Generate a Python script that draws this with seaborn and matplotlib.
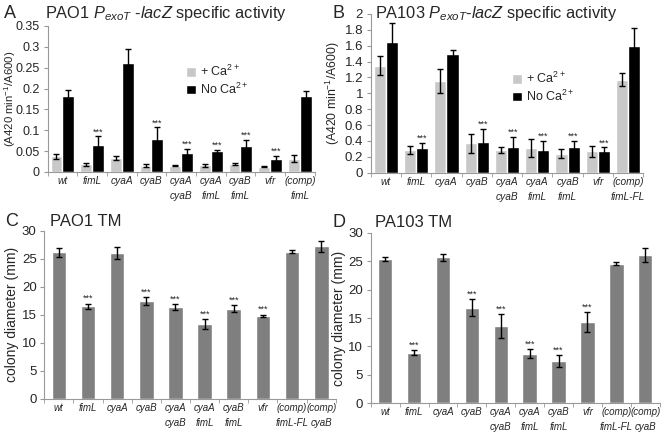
import numpy as np
import pandas as pd
import matplotlib
matplotlib.use("Agg")
import matplotlib.pyplot as plt
import seaborn as sns
from matplotlib.ticker import FuncFormatter, FixedLocator

sns.set_style("white")
plt.rcParams['font.family'] = ['Liberation Sans', 'DejaVu Sans']
plt.rcParams['mathtext.fontset'] = 'custom'
plt.rcParams['mathtext.rm'] = 'Liberation Sans'
plt.rcParams['mathtext.it'] = 'Liberation Sans:italic'
plt.rcParams['mathtext.bf'] = 'Liberation Sans:bold'

# ---------------- data ----------------
strains_ab = ["wt", "fimL", "cyaA", "cyaB", "cyaA\ncyaB", "cyaA\nfimL", "cyaB\nfimL", "vfr", "(comp)\nfimL"]
strains_b = ["wt", "fimL", "cyaA", "cyaB", "cyaA\ncyaB", "cyaA\nfimL", "cyaB\nfimL", "vfr", "(comp)\nfimL-FL"]
strains_cd = ["wt", "fimL", "cyaA", "cyaB", "cyaA\ncyaB", "cyaA\nfimL", "cyaB\nfimL", "vfr", "(comp)\nfimL-FL", "(comp)\ncyaB"]
conditions = ["+ Ca$^{2+}$", "No Ca$^{2+}$"]

a_ca = [0.037, 0.018, 0.033, 0.015, 0.015, 0.016, 0.019, 0.012, 0.032]
a_ca_err = [0.005, 0.003, 0.005, 0.003, 0.002, 0.004, 0.002, 0.001, 0.009]
a_noca = [0.181, 0.064, 0.262, 0.079, 0.046, 0.049, 0.063, 0.031, 0.181]
a_noca_err = [0.015, 0.021, 0.032, 0.028, 0.009, 0.003, 0.014, 0.008, 0.014]
a_sig = [False, True, False, True, True, True, True, True, False]

b_ca = [1.35, 0.29, 1.15, 0.37, 0.29, 0.31, 0.24, 0.27, 1.17]
b_ca_err = [0.125, 0.05, 0.15, 0.12, 0.04, 0.11, 0.06, 0.07, 0.08]
b_noca = [1.65, 0.31, 1.49, 0.39, 0.33, 0.29, 0.32, 0.28, 1.60]
b_noca_err = [0.24, 0.07, 0.06, 0.16, 0.12, 0.11, 0.08, 0.04, 0.22]
b_sig = [False, True, False, True, True, True, True, True, False]

c_diam = [26.2, 16.5, 26.0, 17.5, 16.4, 13.3, 16.1, 14.8, 26.3, 27.2]
c_err = [0.8, 0.5, 1.1, 0.7, 0.5, 0.9, 0.6, 0.2, 0.3, 1.0]
c_sig = [False, True, False, True, True, True, True, True, False, False]

d_diam = [25.4, 8.9, 25.7, 16.8, 13.6, 8.7, 7.4, 14.3, 24.6, 26.1]
d_err = [0.4, 0.5, 0.6, 1.5, 2.1, 0.8, 1.0, 1.7, 0.3, 1.3]
d_sig = [False, True, False, True, True, True, True, True, False, False]

LIGHT = "#c8c8c8"
DARK = "#000000"
MID = "#7f7f7f"
SPINE = "#999999"

fig = plt.figure(figsize=(6.61, 4.33), dpi=100)


def style_axes(ax, n, ymax, step, fmt, xsize, ysize=9.5):
    for s in ["top", "right"]:
        ax.spines[s].set_visible(False)
    for s in ["left", "bottom"]:
        ax.spines[s].set_color(SPINE)
        ax.spines[s].set_linewidth(0.8)
    ax.set_xlim(-0.5, n - 0.5)
    ax.set_ylim(0, ymax)
    ax.set_yticks(np.arange(0, ymax + step / 2, step))
    ax.yaxis.set_major_formatter(FuncFormatter(fmt))
    ax.tick_params(axis="y", which="major", left=True, length=3, color=SPINE, labelsize=ysize, pad=2.5)
    ax.tick_params(axis="x", which="major", bottom=False, length=0, labelsize=xsize, pad=3)
    ax.xaxis.set_minor_locator(FixedLocator(np.arange(-0.5, n, 1.0)))
    ax.tick_params(axis="x", which="minor", bottom=True, length=3, color=SPINE)
    for lab in ax.get_xticklabels():
        lab.set_fontstyle("italic")
        lab.set_linespacing(1.6)
    ax.set_xlabel("")
    ax.grid(False)


def grouped(ax, labels, ca, ca_err, noca, noca_err, sig, ymax, step, fmt, star_off, ysize, lsize):
    df = pd.DataFrame({
        "strain": labels * 2,
        "condition": [conditions[0]] * len(labels) + [conditions[1]] * len(labels),
        "value": ca + noca,
    })
    sns.barplot(data=df, x="strain", y="value", hue="condition", order=labels,
                hue_order=conditions, palette=[LIGHT, DARK], errorbar=None,
                width=0.8, saturation=1, ax=ax, legend=True)
    errs = [ca_err, noca_err]
    vals = [ca, noca]
    bar_conts = list(ax.containers)
    for k, cont in enumerate(bar_conts):
        xs = [p.get_x() + p.get_width() / 2 for p in cont.patches]
        ax.errorbar(xs, vals[k], yerr=errs[k], fmt="none", ecolor="black",
                    elinewidth=1, capsize=2.5, capthick=1)
        if k == 1:
            for x, v, e, s in zip(xs, vals[k], errs[k], sig):
                if s:
                    ax.text(x, v + e + star_off, "***", ha="center", va="bottom", fontsize=6.5)
    style_axes(ax, len(labels), ymax, step, fmt, 7.3, ysize)
    ax.set_ylabel("(A420 min$^{-1}$/A600)", fontsize=lsize, labelpad=2)


def single(ax, labels, vals, errs, sig, star_off):
    df = pd.DataFrame({"strain": labels, "value": vals})
    sns.barplot(data=df, x="strain", y="value", order=labels, color=MID,
                errorbar=None, width=0.5, saturation=1, ax=ax)
    cont = list(ax.containers)[0]
    xs = [p.get_x() + p.get_width() / 2 for p in cont.patches]
    ax.errorbar(xs, vals, yerr=errs, fmt="none", ecolor="black",
                elinewidth=1, capsize=2.5, capthick=1)
    for x, v, e, s in zip(xs, vals, errs, sig):
        if s:
            ax.text(x, v + e + star_off, "***", ha="center", va="bottom", fontsize=6.5)
    style_axes(ax, len(labels), 30, 5, lambda v, p: f"{v:g}", 7.0)
    ax.set_ylabel("colony diameter (mm)", fontsize=10, labelpad=2)


fmt = lambda v, p: f"{round(v, 2):g}"

legend_kw = dict(loc="upper left", frameon=False, fontsize=9,
                 handlelength=0.8, handleheight=0.8, handletextpad=0.3,
                 labelspacing=0.2, borderpad=0.0, borderaxespad=0.0)

axA = fig.add_axes([0.072, 0.603, 0.404, 0.337])
grouped(axA, strains_ab, a_ca, a_ca_err, a_noca, a_noca_err, a_sig, 0.35, 0.05, fmt, 0.0, 9.0, 8.2)
axA.legend(bbox_to_anchor=(0.52, 0.74), **legend_kw)
axA.yaxis.set_label_coords(-0.112, 0.5)

axB = fig.add_axes([0.561, 0.601, 0.412, 0.367])
grouped(axB, strains_b, b_ca, b_ca_err, b_noca, b_noca_err, b_sig, 2.0, 0.2, fmt, 0.0, 9.5, 8.8)
axB.legend(bbox_to_anchor=(0.52, 0.64), **legend_kw)

axC = fig.add_axes([0.067, 0.079, 0.441, 0.388])
single(axC, strains_cd, c_diam, c_err, c_sig, 0.1)

axD = fig.add_axes([0.561, 0.069, 0.437, 0.393])
single(axD, strains_cd, d_diam, d_err, d_sig, 0.1)

# titles and panel letters
fig.text(0.006, 0.968, "A", fontsize=13, va="center", ha="left")
fig.text(0.068, 0.968, "PAO1 $P_{exoT}$ -$lacZ$ specific activity", fontsize=11.8, va="center", ha="left")
fig.text(0.503, 0.968, "B", fontsize=13, va="center", ha="left")
fig.text(0.567, 0.968, "PA103 $P_{exoT}$-$lacZ$ specific activity", fontsize=11.8, va="center", ha="left")
fig.text(0.008, 0.488, "C", fontsize=13, va="center", ha="left")
fig.text(0.075, 0.488, "PAO1 TM", fontsize=12, va="center", ha="left")
fig.text(0.503, 0.486, "D", fontsize=13, va="center", ha="left")
fig.text(0.568, 0.486, "PA103 TM", fontsize=12, va="center", ha="left")

fig.savefig("out.png", dpi=100)
